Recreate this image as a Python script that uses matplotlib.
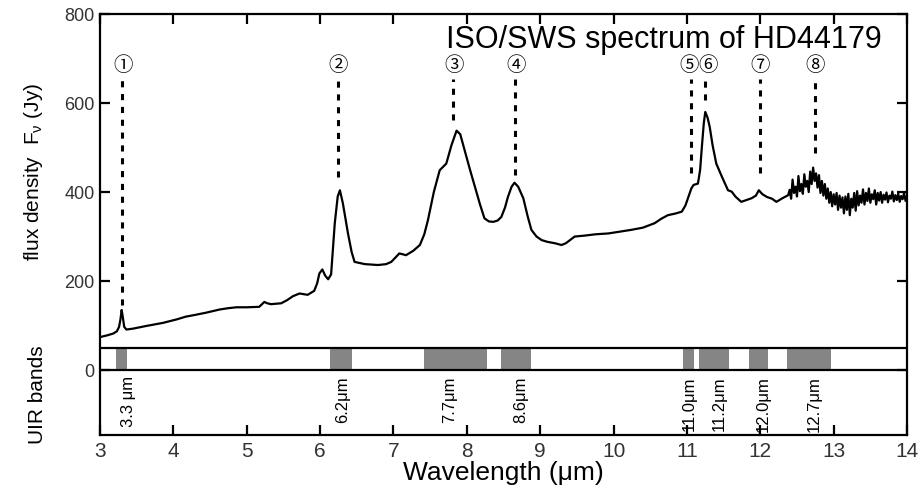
import matplotlib
matplotlib.use("Agg")
import matplotlib.pyplot as plt

plt.rcParams['font.family'] = ['Liberation Sans', 'DejaVu Sans']
NARROW = ['Liberation Sans Narrow', 'Liberation Sans', 'DejaVu Sans']

# ISO/SWS spectrum of HD44179 (um, Jy)
wavelength = [
    3.00, 3.10, 3.18, 3.23, 3.26, 3.28, 3.295, 3.31, 3.33, 3.36, 3.45, 3.63,
    3.86, 4.05, 4.17, 4.30, 4.45, 4.63, 4.75, 4.86, 5.00, 5.17, 5.24, 5.28,
    5.33, 5.47, 5.55, 5.63, 5.72, 5.83, 5.92, 5.96, 5.99, 6.03, 6.07, 6.11,
    6.15, 6.20, 6.24, 6.27, 6.31, 6.38, 6.43, 6.47, 6.61, 6.79, 6.90, 6.97,
    7.04, 7.08, 7.13, 7.17, 7.27, 7.36, 7.42, 7.47, 7.55, 7.63, 7.72, 7.79,
    7.86, 7.91, 7.97, 8.04, 8.11, 8.18, 8.24, 8.30, 8.36, 8.42, 8.47, 8.52,
    8.56, 8.61, 8.65, 8.70, 8.77, 8.83, 8.88, 8.95, 9.02, 9.10, 9.20, 9.29,
    9.35, 9.47, 9.60, 9.75, 9.93, 10.05, 10.24, 10.40, 10.56, 10.65, 10.74,
    10.85, 10.93, 10.98, 11.02, 11.06, 11.09, 11.15, 11.18, 11.20, 11.23,
    11.25, 11.28, 11.31, 11.35, 11.40, 11.47, 11.56, 11.61, 11.66, 11.74,
    11.81, 11.88, 11.94, 11.98, 12.03, 12.09, 12.16, 12.22, 12.30, 12.38,
]
flux = [
    74, 78, 82, 87, 97, 115, 135, 120, 97, 91, 93, 99,
    106, 114, 120, 124, 129, 136, 139, 141, 141, 142, 153, 150,
    148, 150, 157, 166, 172, 169, 178, 195, 217, 226, 212, 204,
    215, 330, 390, 404, 375, 307, 265, 243, 238, 236, 238, 243,
    255, 262, 260, 258, 268, 281, 305, 337, 400, 449, 464, 505,
    538, 530, 494, 452, 412, 372, 341, 334, 333, 336, 344, 365,
    389, 412, 421, 412, 386, 345, 315, 300, 292, 288, 285, 281,
    285, 300, 302, 305, 307, 310, 315, 320, 330, 340, 348,
    352, 356, 370, 389, 408, 416, 419, 450, 494, 555,
    580, 568, 547, 505, 464, 437, 404, 401, 390, 378,
    382, 386, 392, 404, 395, 389, 385, 378, 386, 393,
]

# noisy long-wavelength end of the spectrum
wavelength_noisy = [
    12.40, 12.42, 12.44, 12.46, 12.48, 12.50, 12.52, 12.54, 12.56, 12.58,
    12.60, 12.62, 12.64, 12.66, 12.68, 12.70, 12.72, 12.74, 12.76, 12.78,
    12.80, 12.82, 12.84, 12.86, 12.88, 12.90, 12.92, 12.94, 12.96, 12.98,
    13.00, 13.02, 13.04, 13.06, 13.08, 13.10, 13.12, 13.14, 13.16, 13.18,
    13.20, 13.22, 13.24, 13.26, 13.28, 13.30, 13.32, 13.34, 13.36, 13.38,
    13.40, 13.42, 13.44, 13.46, 13.48, 13.50, 13.52, 13.54, 13.56, 13.58,
    13.60, 13.62, 13.64, 13.66, 13.68, 13.70, 13.72, 13.74, 13.76, 13.78,
    13.80, 13.82, 13.84, 13.86, 13.88, 13.90, 13.92, 13.94, 13.96, 13.98,
    14.00,
]
flux_noisy = [
    405, 385, 428, 398, 412, 390, 436, 402, 418, 396,
    440, 412, 425, 400, 446, 418, 455, 425, 442, 410,
    438, 398, 425, 392, 418, 385, 408, 376, 400, 368,
    395, 372, 398, 360, 392, 365, 388, 352, 390, 360,
    396, 348, 385, 365, 398, 358, 402, 370, 392, 376,
    406, 372, 398, 380, 408, 376, 395, 384, 404, 372,
    398, 381, 400, 376, 394, 383, 399, 377, 392, 385,
    401, 379, 393, 382, 397, 378, 391, 384, 398, 380,
    390,
]

# feature markers
marker_labels = ['①', '②', '③', '④', '⑤', '⑥', '⑦', '⑧']
marker_label_x = [3.31, 6.25, 7.82, 8.67, 11.03, 11.29, 12.0, 12.75]
marker_x = [3.30, 6.25, 7.81, 8.66, 11.05, 11.25, 12.0, 12.75]
marker_bottom = [146, 434, 562, 438, 442, 607, 442, 487]
marker_top = 655

# UIR band ranges (um) and labels
band_start = [3.22, 6.14, 7.42, 8.47, 10.95, 11.16, 11.84, 12.36]
band_end = [3.37, 6.44, 8.27, 8.87, 11.10, 11.58, 12.11, 12.97]
band_labels = ['3.3 μm', '6.2μm', '7.7μm', '8.6μm', '11.0μm', '11.2μm',
               '12.0μm', '12.7μm']
band_label_x = [3.39, 6.31, 7.76, 8.74, 11.03, 11.44, 12.04, 12.73]
strip_top = 50

fig = plt.figure(figsize=(9.2, 4.86), dpi=100)
ax = fig.add_axes([0.1087, 0.105, 0.8772, 0.866])

ax.plot(wavelength + wavelength_noisy, flux + flux_noisy, color='black',
        lw=1.6)

ax.vlines(marker_x, marker_bottom, marker_top, colors='black', lw=2.2,
          linestyles=(0, (2, 2.2)))
for lab, x in zip(marker_labels, marker_label_x):
    ax.text(x, 685, lab, ha='center', va='center', fontsize=14,
            family=['Noto Sans CJK JP', 'DejaVu Sans'])

ax.broken_barh([(s, e - s) for s, e in zip(band_start, band_end)],
               (0, strip_top), facecolor='#858585', edgecolor='none')
ax.axhline(0, color='black', lw=1.6)
ax.axhline(strip_top, color='black', lw=1.6)
for lab, x in zip(band_labels, band_label_x):
    ax.text(x, -14, lab, rotation=90, ha='center', va='top', fontsize=12,
            family=NARROW)

ax.text(13.65, 741, 'ISO/SWS spectrum of HD44179', ha='right', va='center',
        fontsize=22)

ax.set_xlim(3, 14)
ax.set_ylim(-146, 800)
ax.set_xticks(range(3, 15))
ax.set_yticks([0, 200, 400, 600, 800])
for sp in ax.spines.values():
    sp.set_linewidth(1.6)
ax.tick_params(direction='in', length=7, width=1.6, top=True, right=True,
               colors='black', labelcolor='#333333')
ax.tick_params(axis='x', labelsize=15, pad=5)
ax.tick_params(axis='y', labelsize=13, pad=4)
ax.set_xlabel('Wavelength (μm)', fontsize=19, labelpad=0)

fig.text(0.036, 0.646, r'flux density  $\mathregular{F_{\nu}}$ (Jy)',
         rotation=90, ha='center', va='center', fontsize=15, family=NARROW)
fig.text(0.041, 0.187, 'UIR bands', rotation=90, ha='center', va='center',
         fontsize=15, family=NARROW)

fig.savefig('out.png', dpi=100)
